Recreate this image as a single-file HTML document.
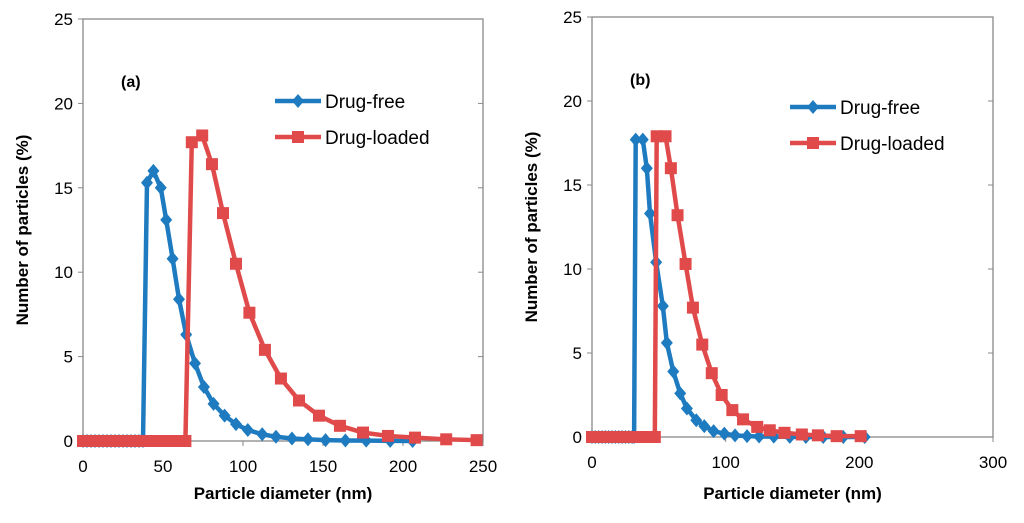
<!DOCTYPE html>
<html><head><meta charset="utf-8"><style>
body{margin:0;background:#fff;width:1024px;height:518px;overflow:hidden}
svg text{font-family:"Liberation Sans",Arial,sans-serif}
</style></head><body>
<svg id="c" width="1024" height="518"></svg>
<script>
const zerosA_free=[0,2.5,5,7.5,10,12.5,15,17.5,20,22.5,25,27.5,30,32.5,35,37.5];
const freeA_x=[40,44,48.6,52,56,60,64.5,70,75.6,81.6,88.5,95.6,103,112,120.6,130.6,140.6,151.6,164,177,192,206];
const freeA_y=[15.3,16.0,15.0,13.1,10.8,8.4,6.3,4.6,3.2,2.2,1.5,1.0,0.65,0.4,0.25,0.15,0.1,0.05,0.03,0.02,0.01,0];
const zerosA_load=[0,2.5,5,7.5,10,12.5,15,17.5,20,22.5,25,27.5,30,32.5,35,37.5,40,42.5,45,47.5,50,52.5,55,57.5,60,62.5,64];
const loadA_x=[68,74.5,80.6,87.5,95.6,104,113.7,123.7,135,147.5,160.6,175,190.6,207.5,227,246];
const loadA_y=[17.7,18.1,16.4,13.5,10.5,7.6,5.4,3.7,2.4,1.5,0.9,0.5,0.3,0.2,0.1,0.05];
const zerosB_free=[0,2.5,5,7.5,10,12.5,15,17.5,20,22.5,25,27.5,30,31.5];
const freeB_x=[32.7,38,41,43.4,48,53,56,60.8,66,71,78,84,91,99,107,116,125,136,148,160,173,188,204];
const freeB_y=[17.7,17.7,16,13.3,10.4,7.8,5.6,3.9,2.6,1.7,1.0,0.65,0.35,0.2,0.1,0.05,0.03,0.02,0.01,0,0,0,0];
const zerosB_load=[0,3,6,9,12,15,18,21,24,27,30,33,36,39,42,45,47];
const loadB_x=[48.4,55,59,64,70,75.5,82.5,89.6,97,105,113,123.6,133,144,157,169,183,201];
const loadB_y=[17.9,17.9,16,13.2,10.3,7.7,5.5,3.8,2.5,1.6,1.05,0.6,0.4,0.25,0.15,0.1,0.05,0.05];
const yTicks=[0,5,10,15,20,25];
const xTicksA=[0,50,100,150,200,250];
const xTicksB=[0,100,200,300];

const svg=document.getElementById('c');const NS='http://www.w3.org/2000/svg';
function mk(t,a,p){const e=document.createElementNS(NS,t);for(const k in a)e.setAttribute(k,a[k]);(p||svg).appendChild(e);return e;}
function chart(id,L,R,T,B,xmax,xTicks,series,label,legX,legY){
  const g=mk('g',{});
  
  
  const sx=v=>L+v/xmax*(R-L), sy=v=>B-v/25*(B-T);
  const fr=mk('rect',{x:L,y:T,width:R-L,height:B-T,fill:'none',stroke:'#888','stroke-width':1.3},g);
  
  
  yTicks.forEach(v=>{mk('line',{x1:L-5,x2:L,y1:sy(v),y2:sy(v),stroke:'#888'},g);mk('line',{x1:R-5,x2:R,y1:sy(v),y2:sy(v),stroke:'#888'},g);
    const t=mk('text',{x:L-10,y:sy(v)+6,'text-anchor':'end','font-size':17,fill:'#000'},g);t.textContent=v;
    
    });
  xTicks.forEach(v=>{mk('line',{x1:sx(v),x2:sx(v),y1:B,y2:B+5,stroke:'#888'},g);
    const t=mk('text',{x:sx(v),y:B+31,'text-anchor':'middle','font-size':17,fill:'#000'},g);t.textContent=v;
    
    });
  series.forEach((s,i)=>{
    const xs=s.zeros.concat(s.x), ys=s.zeros.map(()=>0).concat(s.y);
    const pts=xs.map((x,j)=>sx(x)+','+sy(ys[j])).join(' ');
    const pl=mk('polyline',{points:pts,fill:'none',stroke:s.c,'stroke-width':4.5,'stroke-linejoin':'round'},g);
    
    
    xs.forEach((x,j)=>{const cx=sx(x),cy=sy(ys[j]);let m;
      if(s.sq)m=mk('rect',{x:cx-6,y:cy-6,width:12,height:12,fill:s.c},g);
      else m=mk('polygon',{points:`${cx},${cy-7} ${cx+6},${cy} ${cx},${cy+7} ${cx-6},${cy}`,fill:s.c},g);
      
      });
    const ly=legY+i*36;
    mk('line',{x1:legX,x2:legX+46,y1:ly,y2:ly,stroke:s.c,'stroke-width':4.5},g);
    if(s.sq)mk('rect',{x:legX+17,y:ly-6,width:12,height:12,fill:s.c},g);
    else mk('polygon',{points:`${legX+23},${ly-7} ${legX+29},${ly} ${legX+23},${ly+7} ${legX+17},${ly}`,fill:s.c},g);
    const lt=mk('text',{x:legX+50,y:ly+7,'font-size':19,fill:'#000'},g);lt.textContent=s.label;
    
    
  });
  const pl=mk('text',{x:L+38,y:T+68,'font-size':16,'font-weight':'bold',fill:'#000'},g);pl.textContent=label;
  
  
  const xt=mk('text',{x:(L+R)/2,y:499,'text-anchor':'middle','font-size':17,'font-weight':'bold',fill:'#000'},g);xt.textContent='Particle diameter (nm)';
  
  
  const yx=L-55,yy=(T+B)/2;
  const yt=mk('text',{x:yx,y:yy,'text-anchor':'middle','font-size':17,'font-weight':'bold',fill:'#000',transform:`rotate(-90 ${yx} ${yy})`},g);yt.textContent='Number of particles (%)';
  
  
}
chart('chart-a',83,483,19,441,250,xTicksA,[
 {name:'drug-free',label:'Drug-free',c:'#1f7bc0',zeros:zerosA_free,x:freeA_x,y:freeA_y},
 {name:'drug-loaded',label:'Drug-loaded',c:'#e04a4a',sq:true,zeros:zerosA_load,x:loadA_x,y:loadA_y}],'(a)',275,101);
chart('chart-b',592,993,17,437,300,xTicksB,[
 {name:'drug-free',label:'Drug-free',c:'#1f7bc0',zeros:zerosB_free,x:freeB_x,y:freeB_y},
 {name:'drug-loaded',label:'Drug-loaded',c:'#e04a4a',sq:true,zeros:zerosB_load,x:loadB_x,y:loadB_y}],'(b)',790,107);
</script>
</body></html>
